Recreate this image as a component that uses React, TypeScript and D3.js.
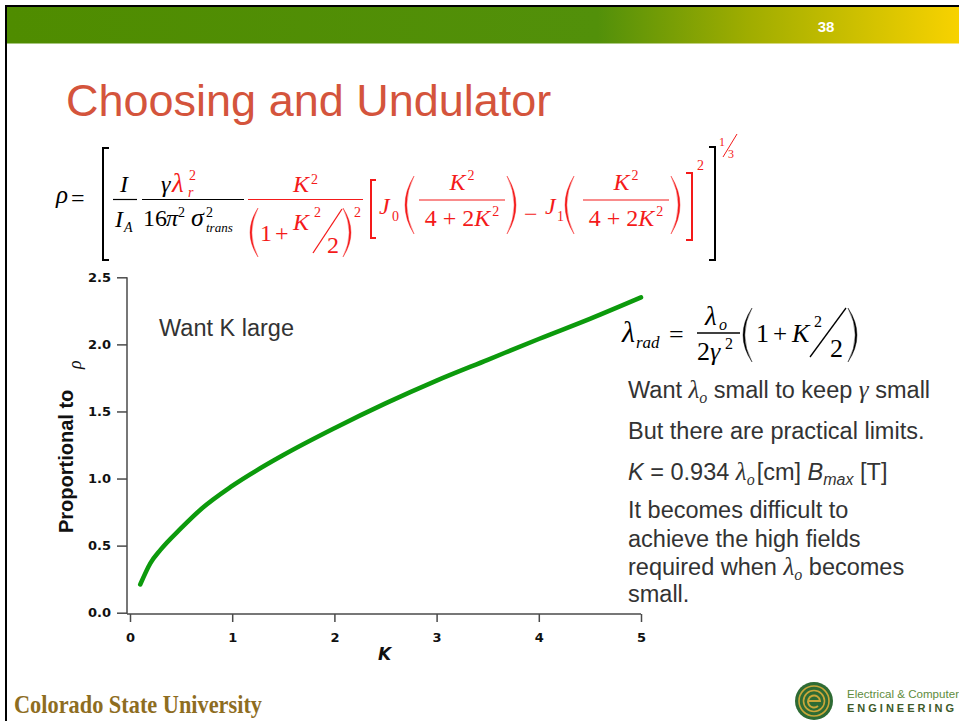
import React, { useEffect, useRef } from 'react';
import * as d3 from 'd3';

// Undulator parameter K and the relative Pierce parameter it gives
const kValues = [0.1, 0.2, 0.3, 0.5, 0.7, 1.0, 1.5, 2.0, 2.5, 3.0, 3.5, 4.0, 4.5, 5.0];
const rhoValues = [0.21, 0.37, 0.47, 0.63, 0.775, 0.945, 1.175, 1.375, 1.56, 1.73, 1.885, 2.04, 2.19, 2.35];
const xTicks = [0, 1, 2, 3, 4, 5];
const yTicks = [0, 0.5, 1.0, 1.5, 2.0, 2.5];

const W = 959;
const H = 721;
const serif = "'Liberation Serif', 'Times New Roman', serif";
const sans = "'Liberation Sans', Arial, sans-serif";
const tickFont = "'DejaVu Sans', Verdana, sans-serif";
const RED = '#f41a1a';
const TEXT = '#333333';

const xScale = d3.scaleLinear().domain([0, 5]).range([130, 641]);
const yScale = d3.scaleLinear().domain([0, 2.5]).range([612.7, 277.3]);
const axisY = 614;
const axisX = 127;

// "(" or ")" drawn as a thin crescent between x0..x1, y0..y1
function Paren({ x0, x1, y0, y1, open, color = '#000' }: any) {
  const ym = (y0 + y1) / 2;
  const xe = open ? x1 : x0;
  const xo = open ? x0 : x1;
  const t = open ? 1.8 : -1.8;
  const cOuter = 2 * xo - xe;
  const cInner = 2 * (xo + t) - xe;
  return (
    <path
      d={`M${xe},${y0} Q${cOuter},${ym} ${xe},${y1} Q${cInner},${ym} ${xe},${y0} Z`}
      fill={color}
      stroke={color}
      strokeWidth={0.4}
    />
  );
}

// "[" or "]" between x0..x1, y0..y1
function Bracket({ x0, x1, y0, y1, open, color = '#000', w = 2 }: any) {
  const d = open
    ? `M${x1},${y0} H${x0} V${y1} H${x1}`
    : `M${x0},${y0} H${x1} V${y1} H${x0}`;
  return <path d={d} fill="none" stroke={color} strokeWidth={w} />;
}

function T({ x, y, s = 24, it = false, c = '#000', f = serif, anchor = 'start', children, w }: any) {
  return (
    <text
      x={x}
      y={y}
      fontSize={s}
      fontStyle={it ? 'italic' : 'normal'}
      fontFamily={f}
      fill={c}
      textAnchor={anchor}
      fontWeight={w}
    >
      {children}
    </text>
  );
}

function Bar({ x0, x1, y, c = '#000', w = 1.2 }: any) {
  return <line x1={x0} x2={x1} y1={y} y2={y} stroke={c} strokeWidth={w} />;
}

// K^2 / (4 + 2K^2) argument of the Bessel functions
function BesselArg({ cx }: any) {
  return (
    <g>
      <text x={cx} y={190} fontSize={24} fontFamily={serif} fill={RED} textAnchor="middle">
        <tspan fontStyle="italic">K</tspan>
        <tspan fontSize={14} dy={-10} dx={2}>2</tspan>
      </text>
      <Bar x0={cx - 43} x1={cx + 43} y={200} c={RED} />
      <text x={cx} y={226} fontSize={24} fontFamily={serif} fill={RED} textAnchor="middle">
        <tspan>4 + 2</tspan>
        <tspan fontStyle="italic">K</tspan>
        <tspan fontSize={14} dy={-10} dx={2}>2</tspan>
      </text>
    </g>
  );
}

function MainFormula() {
  return (
    <g>
      <T x={56} y={203} s={25} it>ρ</T>
      <T x={71} y={206}>=</T>
      <Bracket x0={103} x1={109} y0={148} y1={260} open />

      {/* I / I_A */}
      <T x={120} y={192} it>I</T>
      <Bar x0={113} x1={137} y={199.5} />
      <T x={115} y={227} it>I</T>
      <T x={124} y={232} s={14} it>A</T>

      {/* gamma lambda_r^2 / 16 pi^2 sigma_trans^2 */}
      <T x={161} y={192} it>γ</T>
      <T x={172} y={192} s={27} it c={RED}>λ</T>
      <T x={189} y={180} s={14} c={RED}>2</T>
      <T x={188} y={197} s={14} it c={RED}>r</T>
      <Bar x0={142} x1={244} y={199.5} />
      <T x={143} y={226}>16</T>
      <T x={166} y={226} it>π</T>
      <T x={178} y={217} s={14}>2</T>
      <T x={191} y={226} s={26} it>σ</T>
      <T x={206} y={217} s={14}>2</T>
      <T x={206} y={232} s={13} it>trans</T>

      {/* K^2 / (1 + K^2/2)^2 */}
      <T x={293} y={192} it c={RED}>K</T>
      <T x={311} y={184} s={14} c={RED}>2</T>
      <Bar x0={248} x1={363} y={199.5} c={RED} />
      <Paren x0={250} x1={258} y0={208} y1={257} open color={RED} />
      <T x={260} y={241} c={RED}>1</T>
      <T x={275} y={241} c={RED}>+</T>
      <T x={293} y={230} it c={RED}>K</T>
      <T x={314} y={217} s={14} c={RED}>2</T>
      <line x1={342} y1={209} x2={313} y2={253} stroke={RED} strokeWidth={1.3} />
      <T x={327} y={253} c={RED}>2</T>
      <Paren x0={343} x1={351} y0={208} y1={257} color={RED} />
      <T x={354} y={217} s={14} c={RED}>2</T>

      {/* [ J0(...) - J1(...) ]^2 */}
      <Bracket x0={371} x1={376} y0={180} y1={238} open color={RED} />
      <T x={379} y={214} it c={RED}>J</T>
      <T x={392} y={221} s={14} c={RED}>0</T>
      <Paren x0={405} x1={414} y0={176} y1={234} open color={RED} />
      <BesselArg cx={462} />
      <Paren x0={507} x1={516} y0={176} y1={234} color={RED} />
      <T x={524} y={222} c={RED}>−</T>
      <T x={545} y={214} it c={RED}>J</T>
      <T x={557} y={221} s={14} c={RED}>1</T>
      <Paren x0={565} x1={574} y0={176} y1={234} open color={RED} />
      <BesselArg cx={626} />
      <Paren x0={671} x1={680} y0={176} y1={234} color={RED} />
      <Bracket x0={686} x1={692} y0={173} y1={240} color={RED} />
      <T x={697} y={170} s={14} c={RED}>2</T>

      <Bracket x0={709} x1={715} y0={147} y1={260} />
      <T x={719} y={146} s={12} c={RED}>1</T>
      <line x1={737} y1={134} x2={723} y2={157} stroke={RED} strokeWidth={1} />
      <T x={728} y={158} s={12} c={RED}>3</T>
    </g>
  );
}

function ResonanceFormula() {
  return (
    <g>
      <T x={622} y={342} s={30} it>λ</T>
      <T x={636} y={348} s={17} it>rad</T>
      <T x={669} y={343} s={26}>=</T>
      <T x={705} y={325} s={27} it>λ</T>
      <T x={719} y={330} s={16} it>o</T>
      <Bar x0={697} x1={740} y={333} w={1.3} />
      <T x={697} y={360} s={26}>2</T>
      <T x={710} y={360} s={26} it>γ</T>
      <T x={725} y={349} s={16}>2</T>
      <Paren x0={743} x1={752} y0={308} y1={362} open />
      <T x={756} y={342} s={26}>1</T>
      <T x={773} y={342} s={25}>+</T>
      <T x={792} y={342} s={26} it>K</T>
      <T x={814} y={327} s={16}>2</T>
      <line x1={846} y1={308} x2={810} y2={357} stroke="#000" strokeWidth={1.3} />
      <T x={830} y={357} s={26}>2</T>
      <Paren x0={848} x1={857} y0={308} y1={362} />
    </g>
  );
}

function Notes() {
  const lam = (dySub: number) => [
    <tspan key="l" fontFamily={serif} fontStyle="italic" fontSize={25}>λ</tspan>,
    <tspan key="o" fontFamily={serif} fontStyle="italic" fontSize={16} dy={dySub}>o</tspan>,
  ];
  const common = { fontFamily: sans, fontSize: 23.5, fill: TEXT };
  return (
    <g>
      <text x={628} y={398} {...common}>
        Want {lam(5)}
        <tspan dy={-5}> small to keep </tspan>
        <tspan fontFamily={serif} fontStyle="italic" fontSize={25}>γ</tspan> small
      </text>
      <text x={628} y={439} {...common}>But there are practical limits.</text>
      <text x={628} y={480} {...common}>
        <tspan fontStyle="italic">K</tspan> = 0.934 {lam(5)}
        <tspan dy={-5} dx={2}>[cm] </tspan>
        <tspan fontStyle="italic">B</tspan>
        <tspan fontStyle="italic" fontSize={16} dy={5}>max</tspan>
        <tspan dy={-5}> [T]</tspan>
      </text>
      <text x={628} y={518} {...common}>It becomes difficult to</text>
      <text x={628} y={546.5} {...common}>achieve the high fields</text>
      <text x={628} y={575} {...common}>
        required when {lam(5)}
        <tspan dy={-5}> becomes</tspan>
      </text>
      <text x={628} y={602} {...common}>small.</text>
    </g>
  );
}

function Chart() {
  const yAxisRef = useRef<SVGGElement>(null);
  const xAxisRef = useRef<SVGGElement>(null);

  useEffect(() => {
    const ya = d3
      .axisLeft(yScale)
      .tickValues(yTicks)
      .tickFormat(d3.format('.1f'))
      .tickSize(10)
      .tickSizeOuter(0)
      .tickPadding(6);
    const xa = d3
      .axisBottom(xScale)
      .tickValues(xTicks)
      .tickFormat(d3.format('d'))
      .tickSize(8)
      .tickSizeOuter(0)
      .tickPadding(11);
    const style = (g: any) => {
      g.select('.domain').remove();
      g.selectAll('.tick line').attr('stroke', '#4a4a4a').attr('stroke-width', 1.5);
      g.selectAll('.tick text')
        .attr('fill', '#111')
        .attr('font-family', tickFont)
        .attr('font-weight', 'bold')
        .attr('font-size', 13);
    };
    d3.select(yAxisRef.current).call(ya as any).call(style);
    d3.select(xAxisRef.current).call(xa as any).call(style);
  }, []);

  const line = d3
    .line<number>()
    .x((_, i) => xScale(kValues[i]))
    .y((d) => yScale(d))
    .curve(d3.curveMonotoneX);

  return (
    <g>
      <line x1={axisX} x2={axisX} y1={yScale(2.5)} y2={axisY} stroke="#4a4a4a" strokeWidth={1.5} />
      <line x1={axisX} x2={xScale(5)} y1={axisY} y2={axisY} stroke="#4a4a4a" strokeWidth={1.5} />
      <g ref={yAxisRef} transform={`translate(${axisX},0)`} />
      <g ref={xAxisRef} transform={`translate(0,${axisY})`} />
      <path
        d={line(rhoValues) || ''}
        fill="none"
        stroke="#0c9a0c"
        strokeWidth={4.5}
        strokeLinecap="round"
        strokeLinejoin="round"
      />
      <text
        transform="translate(73,533) rotate(-90)"
        fontFamily={sans}
        fontWeight="bold"
        fontSize={20}
        fill="#111"
      >
        Proportional to
      </text>
      <text
        transform="translate(81,369) rotate(-90)"
        fontFamily={serif}
        fontStyle="italic"
        fontSize={18}
        fill="#111"
      >
        ρ
      </text>
      <text
        x={378}
        y={660}
        fontFamily={tickFont}
        fontWeight="bold"
        fontStyle="italic"
        fontSize={17}
        fill="#111"
      >
        K
      </text>
      <text x={159} y={336} fontFamily={sans} fontSize={23.5} fill={TEXT}>
        Want K large
      </text>
    </g>
  );
}

function Footer() {
  return (
    <g>
      <text
        x={14}
        y={713}
        fontFamily={serif}
        fontWeight="bold"
        fontSize={25}
        fill="#8e6d1f"
        textLength={248}
        lengthAdjust="spacingAndGlyphs"
      >
        Colorado State University
      </text>
      <g transform="translate(814,701)">
        <circle r={19} fill="#2e6b34" />
        <circle r={15} fill="none" stroke="#c9a73a" strokeWidth={1.6} />
        <circle r={10.5} fill="none" stroke="#c9a73a" strokeWidth={1.6} />
        <path d="M-6,0 H6 A6,6 0 1 0 4,5" fill="none" stroke="#c9a73a" strokeWidth={2} />
      </g>
      <text x={847} y={698} fontFamily={sans} fontSize={11} fill="#5e8b3c" textLength={112} lengthAdjust="spacingAndGlyphs">
        Electrical &amp; Computer
      </text>
      <text x={847} y={712} fontFamily={sans} fontWeight="bold" fontSize={11} fill="#3d5a2a" letterSpacing={3}>
        ENGINEERING
      </text>
    </g>
  );
}

export default function App() {
  return (
    <svg
      width={W}
      height={H}
      viewBox={`0 0 ${W} ${H}`}
      style={{ position: 'absolute', left: 0, top: 0, background: '#fff' }}
    >
      <defs>
        <linearGradient id="band" x1="0" x2="1" y1="0" y2="0">
          <stop offset="0" stopColor="#4f8c00" />
          <stop offset="0.62" stopColor="#52900a" />
          <stop offset="0.78" stopColor="#a0ad00" />
          <stop offset="1" stopColor="#f8d200" />
        </linearGradient>
      </defs>
      <rect x={0} y={0} width={W} height={H} fill="#fff" />
      <rect x={5} y={5} width={W - 5} height={2} fill="#000" />
      <rect x={5} y={5} width={2} height={H - 5} fill="#000" />
      <rect x={7} y={7} width={W - 7} height={36.5} fill="url(#band)" />
      <text x={826} y={32} fontFamily={sans} fontWeight="bold" fontSize={15} fill="#fff" textAnchor="middle">
        38
      </text>
      <text x={66} y={116} fontFamily={sans} fontSize={45} fill="#d4543c">
        Choosing and Undulator
      </text>
      <MainFormula />
      <ResonanceFormula />
      <Chart />
      <Notes />
      <Footer />
    </svg>
  );
}
